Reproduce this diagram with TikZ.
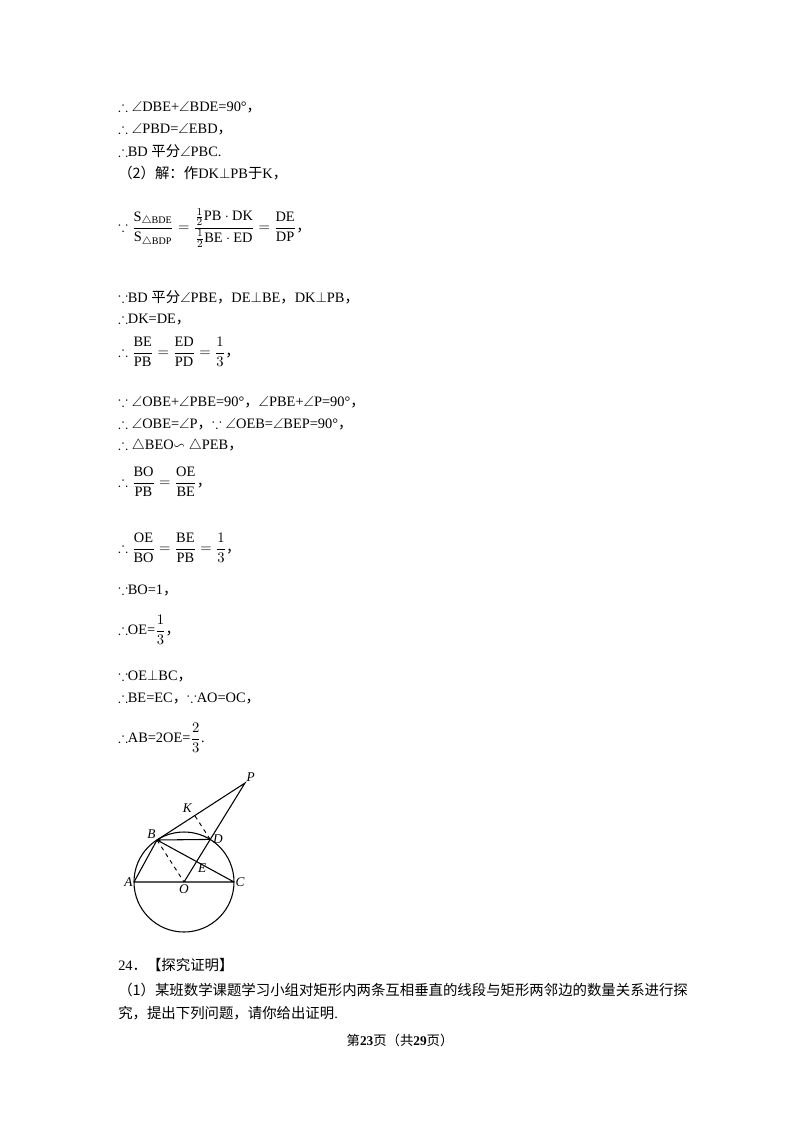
\documentclass[tikz,border=0pt]{standalone}
\usepackage{amsmath,amssymb}
\usepackage{fontspec}
\setmainfont{Liberation Serif}
\newfontfamily\cjk{Noto Sans CJK SC}
\newcommand\cm{{\cjk ，}}
\usetikzlibrary{calc}
\tikzset{ln/.style={anchor=west,inner sep=0pt,font=\fontsize{10.8pt}{12pt}\selectfont},
lab/.style={font=\fontsize{10pt}{11pt}\selectfont\itshape,inner sep=1pt}}
\begin{document}
\begin{tikzpicture}[x=0.75pt,y=-0.75pt]
\useasboundingbox (0,0) rectangle (800,1132);
\node[ln] (l1) at (118,107) {$\therefore\angle$DBE+$\angle$BDE=90°\cm};
\node[ln] (l2) at (118,129) {$\therefore\angle$PBD=$\angle$EBD\cm};
\node[ln] (l3) at (118,151) {$\therefore$BD {\cjk 平分}$\angle$PBC.};
\node[ln] (l4) at (118,173) {{\cjk （2）解：作}DK$\perp$PB{\cjk 于}K\cm};
\node[ln] (l5) at (118,228) {$\because\dfrac{\mathrm{S}_{\triangle \mathrm{BDE}}}{\mathrm{S}_{\triangle \mathrm{BDP}}}=\dfrac{\frac12\mathrm{PB}\cdot\mathrm{DK}}{\frac12\mathrm{BE}\cdot\mathrm{ED}}=\dfrac{\mathrm{DE}}{\mathrm{DP}}$\cm};
\node[ln] (l6) at (118,297) {$\because$BD {\cjk 平分}$\angle$PBE\cm DE$\perp$BE\cm DK$\perp$PB\cm};
\node[ln] (l7) at (118,319) {$\therefore$DK=DE\cm};
\node[ln] (l8) at (118,352) {$\therefore\dfrac{\mathrm{BE}}{\mathrm{PB}}=\dfrac{\mathrm{ED}}{\mathrm{PD}}=\dfrac13$\cm};
\node[ln] (l9) at (118,402) {$\because\angle$OBE+$\angle$PBE=90°\cm$\angle$PBE+$\angle$P=90°\cm};
\node[ln] (l10) at (118,424) {$\therefore\angle$OBE=$\angle$P\cm$\because\angle$OEB=$\angle$BEP=90°\cm};
\node[ln] (l11) at (118,446) {$\therefore\triangle$BEO$\backsim\triangle$PEB\cm};
\node[ln] (l12) at (118,482) {$\therefore\dfrac{\mathrm{BO}}{\mathrm{PB}}=\dfrac{\mathrm{OE}}{\mathrm{BE}}$\cm};
\node[ln] (l13) at (118,548) {$\therefore\dfrac{\mathrm{OE}}{\mathrm{BO}}=\dfrac{\mathrm{BE}}{\mathrm{PB}}=\dfrac13$\cm};
\node[ln] (l14) at (118,590) {$\because$BO=1\cm};
\node[ln] (l15) at (118,630) {$\therefore$OE=$\dfrac13$\cm};
\node[ln] (l16) at (118,676) {$\because$OE$\perp$BC\cm};
\node[ln] (l17) at (118,698) {$\therefore$BE=EC\cm$\because$AO=OC\cm};
\node[ln] (l18) at (118,738) {$\therefore$AB=2OE=$\dfrac23$.};
\node[ln] (l19) at (118,965) {24{\cjk ．【探究证明】}};
\node[ln] (l20) at (118,990) {\cjk （1）某班数学课题学习小组对矩形内两条互相垂直的线段与矩形两邻边的数量关系进行探};
\node[ln] (l21) at (118,1013) {{\cjk 究，提出下列问题，请你给出证明}.};
\node[inner sep=0pt,font=\fontsize{10pt}{12pt}\selectfont] (ft) at (400,1040) {{\cjk 第}\textbf{23}{\cjk 页（共}\textbf{29}{\cjk 页）}};
% figure
\coordinate (O) at (184,882);
\coordinate (A) at (134,882);
\coordinate (C) at (234,882);
\coordinate (B) at (157,840);
\coordinate (P) at (245,783);
\coordinate (D) at (210.2,839.4);
\coordinate (E) at (intersection of B--C and O--P);
\coordinate (K) at ($(B)!(D)!(P)$);
\draw[line width=0.8pt] (O) circle[radius=50];
\draw[line width=0.8pt] (A)--(C) (A)--(B)--(C) (B)--(D) (B)--(P)--(O);
\draw[line width=0.7pt,dashed] (B)--(O) (D)--(K);
\node[lab,left] (lA) at (A) {A};
\node[lab,right] (lC) at (C) {C};
\node[lab,below=1pt] (lO) at (O) {O};
\node[lab,above left] (lB) at (B) {B};
\node[lab,right=1pt] (lD) at (D) {D};
\node[lab,below right] (lE) at (E) {E};
\node[lab,above right] (lP) at (P) {P};
\node[lab,above left=1pt] (lK) at (K) {K};
\end{tikzpicture}
\end{document}
